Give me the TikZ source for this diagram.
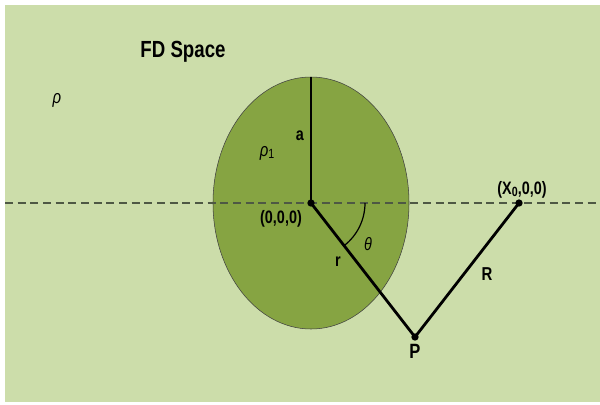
\documentclass[tikz,border=0pt]{standalone}
\usepackage{fontspec}
\setmainfont{Liberation Sans}[FakeStretch=0.8]
\definecolor{fdback}{RGB}{204,221,170}
\definecolor{fdsphere}{RGB}{134,164,66}
\definecolor{fddash}{RGB}{78,88,68}
\tikzset{
  lbl/.style={inner sep=0.75pt, font=\fontsize{13.5}{15}\selectfont\bfseries},
  bigl/.style={inner sep=0.75pt, font=\fontsize{17.5}{19}\selectfont\bfseries},
  dot/.style={circle, fill=black, inner sep=0pt, minimum size=5.5pt}
}

\begin{document}
\begin{tikzpicture}[x=0.75pt,y=0.75pt,yscale=-1,xscale=1]
\useasboundingbox (0,0) rectangle (600,404);

%Background
\fill[fdback] (5,5) rectangle (600,402);

%Sphere
\draw[fill=fdsphere, draw=black!75, line width=0.4] (311,203) ellipse [x radius=98, y radius=126];

%Points
\coordinate (O) at (311,203);
\coordinate (X) at (519,203);
\coordinate (P) at (415,337);
\coordinate (T) at (311,77);
\coordinate (L) at (5,203);
\coordinate (E) at (600,203);

%Dashed axis
\draw[fddash, line width=1, dash pattern=on 6pt off 3.5pt] (L) -- (E);

%Radius a
\draw[line width=1.3] (O) -- (T);
%Lines r and R
\draw[line width=2.1, line join=round] (O) -- (P) -- (X);
%Angle
\draw[line width=0.9] (O) ++(0:54) arc [start angle=0, end angle=52, radius=54];

%Dots
\node[dot] (Od) at (O) {};
\node[dot] (Xd) at (X) {};
\node[dot] (Pd) at (P) {};

% Text Node
\node[bigl] (title) at (183,52) {FD Space};
% Text Node
\node[lbl, font=\fontsize{14}{15}\selectfont\itshape] (rho) at (57,100) {ρ};
% Text Node
\node[lbl, font=\fontsize{14}{15}\selectfont] (rho1) at (267,153) {\textit{ρ}\raisebox{-0.25ex}{\fontsize{10}{11}\selectfont 1}};
% Text Node
\node[lbl] (a) at (300,136) {a};
% Text Node
\node[lbl] (orig) at (281,219) {(0,0,0)};
% Text Node
\node[lbl] (xo) at (522,190) {(X\raisebox{-0.2ex}{\fontsize{10}{11}\selectfont 0},0,0)};
% Text Node
\node[lbl, font=\fontsize{13.5}{15}\selectfont\itshape] (th) at (368,244) {θ};
% Text Node
\node[lbl] (r) at (338,262) {r};
% Text Node
\node[lbl, font=\fontsize{14}{15}\selectfont\bfseries] (Rl) at (487,274) {R};
% Text Node
\node[bigl, font=\fontsize{15.5}{17}\selectfont\bfseries] (Pl) at (415,351) {P};

\end{tikzpicture}
\end{document}
